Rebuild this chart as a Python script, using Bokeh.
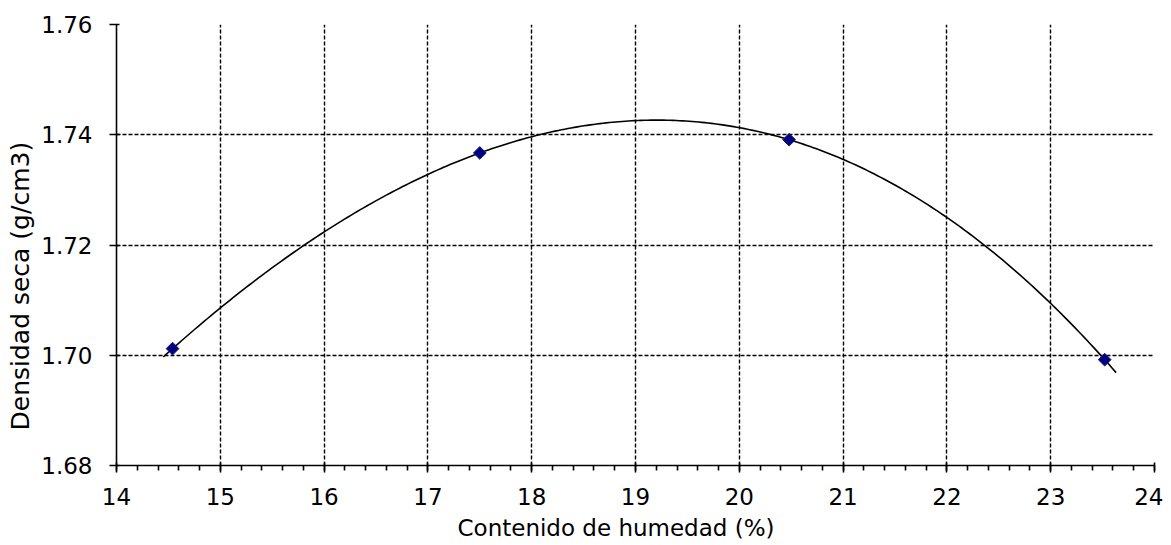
import numpy as np
from bokeh.plotting import figure
from bokeh.models import SingleIntervalTicker, Range1d, Title
from bokeh.embed import file_html
from bokeh.resources import INLINE

# Data
humedad = [14.54, 17.50, 20.48, 23.52]
densidad = [1.7012, 1.7367, 1.7391, 1.6992]

# Trendline (3rd order polynomial through the data) extent
trend_order = 3
trend_start = 14.45
trend_end = 23.63

y_ticks = [1.68, 1.70, 1.72, 1.74, 1.76]

FONT = "DejaVu Sans"

p = figure(width=1163, height=545, output_backend="svg", toolbar_location=None,
           x_range=Range1d(14, 24), y_range=Range1d(1.68, 1.76),
           min_border_left=116, min_border_right=9, min_border_top=24, min_border_bottom=78)
p.outline_line_color = None
p.background_fill_color = "white"
p.border_fill_color = "white"

# trendline
coef = np.polyfit(humedad, densidad, trend_order)
xs = np.linspace(trend_start, trend_end, 300)
p.line(xs, np.polyval(coef, xs), line_color="black", line_width=1.6)

# data points
p.scatter(humedad, densidad, marker="square", angle=np.pi / 4, size=9,
          fill_color="#000080", line_color="#1a1a80", line_width=1)

# axes
p.xaxis.ticker = SingleIntervalTicker(interval=1, num_minor_ticks=5)
p.yaxis.ticker = y_ticks
p.yaxis.major_label_overrides = {v: f"{v:.2f}" for v in y_ticks}

for ax in (p.xaxis[0], p.yaxis[0]):
    ax.axis_line_color = "black"
    ax.axis_line_width = 1.6
    ax.major_tick_line_color = "black"
    ax.major_tick_line_width = 1.6
    ax.major_tick_out = 7
    ax.major_tick_in = 3
    ax.major_label_text_font = FONT
    ax.major_label_text_font_size = "23px"
    ax.major_label_text_color = "black"

p.xaxis.minor_tick_line_color = "black"
p.xaxis.minor_tick_line_width = 1.6
p.xaxis.minor_tick_out = 5
p.xaxis.minor_tick_in = 0
p.yaxis.minor_tick_line_color = None

p.xaxis.major_label_standoff = 15
p.yaxis.major_label_standoff = 17

# axis titles (offset along the axis as in the reference)
xt = Title(text="Contenido de humedad (%)", align="left", offset=341, standoff=10,
           text_font=FONT, text_font_size="23px", text_font_style="normal",
           text_color="black")
yt = Title(text="Densidad seca (g/cm3)", align="left", offset=35, standoff=7,
           text_font=FONT, text_font_size="25px", text_font_style="normal",
           text_color="black")
p.add_layout(xt, "below")
p.add_layout(yt, "left")

# grid
for g in (p.xgrid[0], p.ygrid[0]):
    g.grid_line_color = "black"
    g.grid_line_width = 1.4
    g.grid_line_dash = "4 2"
p.ygrid.ticker = y_ticks

open("out.html", "w").write(file_html(p, INLINE))
